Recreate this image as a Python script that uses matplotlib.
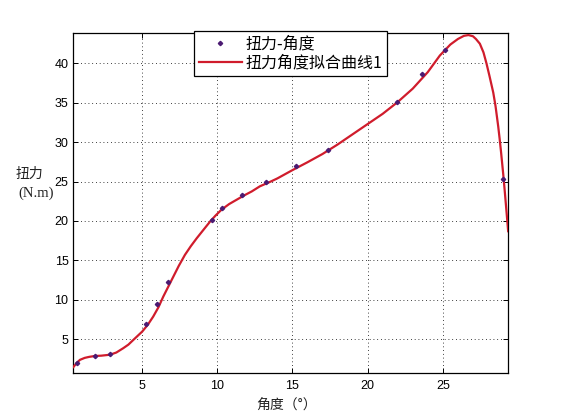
import matplotlib
matplotlib.use("Agg")
import matplotlib.pyplot as plt

# measured data points
angle_pts = [0.66, 1.88, 2.88, 5.27, 6.02, 6.75, 9.63, 10.3, 11.65, 13.26, 15.24, 17.4, 21.93, 23.62, 25.15, 29.02]
torque_pts = [1.95, 2.88, 3.05, 6.9, 9.47, 12.2, 20.1, 21.6, 23.25, 24.9, 27.0, 29.0, 35.1, 38.7, 41.7, 25.3]

# fitted curve
fit_angle = [0.44, 0.66, 0.88, 1.2, 1.5, 1.88, 2.3, 2.88, 3.3, 3.76, 4.1, 4.43, 5.02, 5.4, 5.75,
             6.1, 6.42, 6.75, 7.08, 7.45, 7.86, 8.25, 8.64, 9.1, 9.52, 9.9, 10.3, 10.8, 11.3,
             11.8, 12.3, 12.84, 13.5, 14.0, 15.0, 16.0, 17.0, 18.0, 19.0, 20.0, 21.0, 22.0,
             23.0, 24.0, 24.8, 25.5, 26.0, 26.4, 26.7, 27.0, 27.2, 27.46, 27.7, 27.9, 28.1,
             28.35, 28.5, 28.68, 28.77, 28.86, 29.01, 29.1, 29.19, 29.27, 29.34]
fit_torque = [1.45, 1.95, 2.37, 2.62, 2.75, 2.86, 2.9, 3.02, 3.3, 3.85, 4.3, 4.9, 5.96, 6.85, 7.86,
              9.05, 10.4, 11.65, 12.9, 14.3, 15.7, 16.8, 17.8, 18.9, 19.9, 20.7, 21.45, 22.15, 22.7,
              23.25, 23.75, 24.4, 24.95, 25.4, 26.45, 27.45, 28.5, 29.7, 31.0, 32.3, 33.6, 35.1,
              36.8, 38.9, 41.0, 42.4, 43.1, 43.5, 43.6, 43.45, 43.1, 42.5, 41.4, 40.0, 38.4,
              36.3, 34.6, 32.0, 30.5, 28.9, 26.0, 24.1, 22.1, 20.3, 18.7]

xticks = [5, 10, 15, 20, 25]
yticks = [5, 10, 15, 20, 25, 30, 35, 40]

legend_labels = ["扭力-角度", "扭力角度拟合曲线1"]

plt.rcParams['font.family'] = ['Liberation Sans', 'Noto Sans CJK SC', 'DejaVu Sans']

fig = plt.figure(figsize=(5.61, 4.2), dpi=100)
W, H = 561, 420
ax = fig.add_axes([73.3 / W, 1 - 373 / H, (508.3 - 73.3) / W, (373 - 32.7) / H])

pts, = ax.plot(angle_pts, torque_pts, linestyle='none', marker='D', markersize=2.2,
               color='#4b1a72', zorder=4, label=legend_labels[0])
line, = ax.plot(fit_angle, fit_torque, color='#d01c2c', linewidth=1.6, zorder=3,
                label=legend_labels[1])

ax.set_xlim(0.44, 29.35)
ax.set_ylim(0.7, 43.9)
ax.set_xticks(xticks)
ax.set_yticks(yticks)
ax.tick_params(direction='in', length=3.5, width=0.7, top=True, right=True, labelsize=9)
ax.tick_params(axis='x', pad=5)
ax.tick_params(axis='y', pad=3.5)
for s in ax.spines.values():
    s.set_linewidth(0.9)
ax.grid(True, color='black', linestyle=(0, (1, 3.5)), linewidth=0.6)
ax.set_axisbelow(True)

leg = fig.legend(handles=[pts, line], labels=legend_labels, loc='upper left',
                 bbox_to_anchor=(194 / W, 1 - 31 / H), borderaxespad=0, frameon=True,
                 fancybox=False, framealpha=1, edgecolor='black', borderpad=0.3,
                 handlelength=2.7, handletextpad=0.25, labelspacing=0.1,
                 prop={'family': ['Noto Sans CJK SC', 'DejaVu Sans'], 'size': 11.5})
leg.get_frame().set_linewidth(0.9)
leg.set_zorder(10)

fig.text(287 / W, 1 - 406 / H, "角度（°）", ha='center', va='center', fontsize=10,
         family=['Noto Sans CJK SC', 'DejaVu Sans'], color='#222222')
fig.text(29 / W, 1 - 174 / H, "扭力", ha='center', va='center', fontsize=10,
         family=['Noto Sans CJK SC', 'DejaVu Sans'], color='#222222')
fig.text(36 / W, 1 - 193 / H, "(N.m)", ha='center', va='center', fontsize=10.5,
         family=['Liberation Serif', 'DejaVu Serif'], color='#222222')

fig.savefig("out.png", dpi=100)
